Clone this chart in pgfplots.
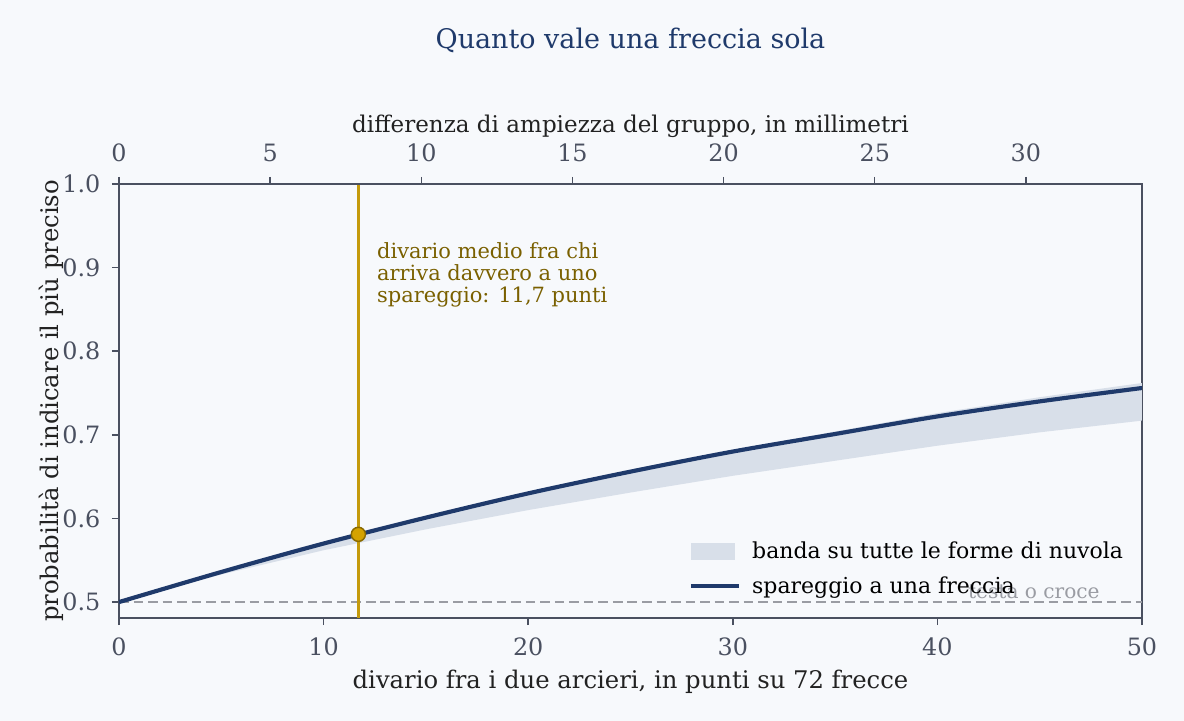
\documentclass[border=0pt]{standalone}
\usepackage{fontspec}
\setmainfont{DejaVu Serif}
\usepackage{pgfplots}
\pgfplotsset{compat=1.18}

\definecolor{bg}{HTML}{F7F9FC}
\definecolor{navy}{HTML}{1F3A6B}
\definecolor{goldline}{HTML}{C49A0C}
\definecolor{dotfill}{HTML}{D4A200}
\definecolor{dotedge}{HTML}{8A6A00}
\definecolor{annot}{HTML}{7A6000}
\definecolor{band}{HTML}{D8DFE9}
\definecolor{spine}{HTML}{4A5060}
\definecolor{greyd}{HTML}{9A9CA3}
\definecolor{labtext}{HTML}{222222}

\begin{document}
\begin{tikzpicture}
% page background, drawn first
\fill[bg] (-57.33pt,-49.63pt) rectangle (513.14pt,297.75pt);

\begin{axis}[
    name=main,
    at={(0pt,0pt)}, anchor=south west,
    scale only axis,
    width=492.9pt, height=209.1pt,
    xmin=0, xmax=50,
    ymin=0.481, ymax=1.0,
    xtick={0,10,...,50},
    ytick={0.5,0.6,0.7,0.8,0.9,1.0},
    tick pos=left,
    tick align=outside,
    major tick length=3.4pt,
    axis line style={spine, line width=0.7pt},
    tick style={spine, line width=0.7pt},
    ticklabel style={font=\fontsize{11.5}{12}\selectfont, text=spine},
    /pgf/number format/assume math mode=true,
    xticklabel style={anchor=center, yshift=-10.6pt},
    yticklabel style={anchor=center, xshift=-14.7pt,
        /pgf/number format/.cd, fixed, fixed zerofill, precision=1},
    xlabel={divario fra i due arcieri, in punti su 72 frecce},
    ylabel={probabilità di indicare il più preciso},
    label style={text=labtext},
    xlabel style={font=\fontsize{11.7}{12}\selectfont,
        at={(axis description cs:0.5,-0.148)}, anchor=center},
    ylabel style={font=\fontsize{11.7}{12}\selectfont,
        at={(axis description cs:-0.0663,0.5)}, anchor=center},
    legend style={draw=none, fill=none, at={(0.992,0.03)}, anchor=south east,
        font=\fontsize{10.6}{12}\selectfont, row sep=3pt,
        cells={anchor=west}},
]
% banda su tutte le forme di nuvola: bordo superiore, poi inferiore a ritroso
\addplot[fill=band, draw=none, area legend,
    legend image code/.code={\fill[band] (0pt,-3.8pt) rectangle (21pt,4.2pt);
        \path (24.5pt,0pt);}]
    coordinates {
    (0,0.500) (5,0.536) (10,0.570) (15,0.602) (20,0.631) (25,0.658)
    (30,0.682) (35,0.704) (40,0.726) (45,0.745) (50,0.762)
    (50,0.717) (45,0.703) (40,0.687) (35,0.669) (30,0.651) (25,0.631)
    (20,0.610) (15,0.587) (10,0.562) (5,0.533) (0,0.500)
} -- cycle;
\addlegendentry{banda su tutte le forme di nuvola}

% testa o croce
\addplot[greyd, line width=1pt, dash pattern=on 4.6pt off 2.4pt, forget plot]
    coordinates {(0,0.5) (50,0.5)};

% divario medio
\addplot[goldline, line width=1.2pt, forget plot]
    coordinates {(11.7,0.481) (11.7,1.0)};

% spareggio a una freccia
\addplot[navy, line width=2pt, smooth,
    legend image code/.code={\draw[navy, line width=2pt] (0pt,0pt) -- (23pt,0pt);
        \path (26.5pt,0pt);}]
    coordinates {
    (0,0.500) (5,0.536) (10,0.570) (15,0.601) (20,0.630) (25,0.656)
    (30,0.680) (35,0.701) (40,0.722) (45,0.740) (50,0.756)
};
\addlegendentry{spareggio a una freccia}

\addplot[only marks, mark=*, mark size=3.4pt,
    mark options={fill=dotfill, draw=dotedge, line width=0.7pt}, forget plot]
    coordinates {(11.7,0.581)};

\node[anchor=north west, align=left, text=annot, inner sep=0pt,
    font=\fontsize{10.1}{10.6}\selectfont]
    at (axis cs:12.6,0.931) {divario medio fra chi\\arriva davvero a uno\\spareggio: 11,7 punti};

\node[anchor=south east, text=greyd, inner sep=0pt,
    font=\fontsize{9.7}{11}\selectfont]
    at (axis cs:47.95,0.504) {testa o croce};
\end{axis}

\begin{axis}[
    at={(0pt,0pt)}, anchor=south west,
    scale only axis,
    width=492.9pt, height=209.1pt,
    xmin=0, xmax=33.84,
    ymin=0, ymax=1,
    axis x line*=top,
    axis y line=none,
    xtick={0,5,...,30},
    tick align=outside,
    major tick length=3.4pt,
    axis line style={spine, line width=0.7pt},
    tick style={spine, line width=0.7pt},
    ticklabel style={font=\fontsize{11.5}{12}\selectfont, text=spine},
    xticklabel style={anchor=center, yshift=11.5pt},
    /pgf/number format/assume math mode=true,
    xlabel={differenza di ampiezza del gruppo, in millimetri},
    xlabel style={font=\fontsize{11.1}{12}\selectfont, text=labtext,
        at={(axis description cs:0.5,1.1334)}, anchor=center},
]
\end{axis}

\node[font=\fontsize{13}{14}\selectfont, text=navy] at (246.45pt,278.5pt)
    {Quanto vale una freccia sola};

\pgfresetboundingbox
\path[use as bounding box] (-57.33pt,-49.63pt) rectangle (513.14pt,297.75pt);
\end{tikzpicture}
\end{document}
